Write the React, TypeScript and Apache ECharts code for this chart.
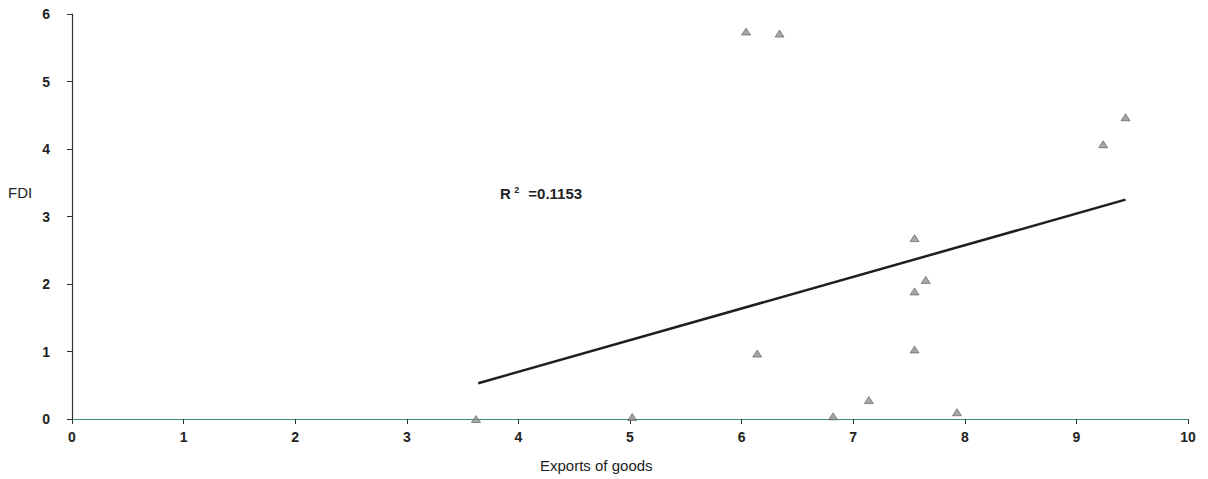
import React, { useEffect, useRef } from "react";
import * as echarts from "echarts";

const exportsX = [3.62, 5.02, 6.04, 6.34, 6.14, 6.82, 7.14, 7.55, 7.65, 7.55, 7.55, 7.93, 9.24, 9.44];
const fdiY = [0.0, 0.03, 5.74, 5.71, 0.97, 0.04, 0.28, 2.68, 2.06, 1.89, 1.03, 0.1, 4.07, 4.47];
const trendX = [3.64, 9.44];
const trendY = [0.53, 3.25];
const xTicks = [0, 1, 2, 3, 4, 5, 6, 7, 8, 9, 10];
const yTicks = [0, 1, 2, 3, 4, 5, 6];
const rSquared = "0.1153";
const xTitle = "Exports of goods";
const yTitle = "FDI";

export default function App() {
  const ref = useRef<HTMLDivElement>(null);
  useEffect(() => {
    if (!ref.current) return;
    const chart = echarts.init(ref.current, null, { renderer: "svg" });
    const font = "Arial, 'Liberation Sans', sans-serif";
    chart.setOption({
      animation: false,
      backgroundColor: "#ffffff",
      grid: { left: 72, right: 20, top: 14, bottom: 60, containLabel: false },
      xAxis: {
        type: "value",
        min: xTicks[0],
        max: xTicks[xTicks.length - 1],
        interval: 1,
        axisLine: { show: true, lineStyle: { color: "#3d8c7c", width: 1.2 } },
        axisTick: { show: true, inside: false, length: 5, lineStyle: { color: "#333" } },
        axisLabel: { color: "#222", fontFamily: font, fontSize: 14, fontWeight: "bold", margin: 11 },
        splitLine: { show: false },
      },
      yAxis: {
        type: "value",
        min: yTicks[0],
        max: yTicks[yTicks.length - 1],
        interval: 1,
        axisLine: { show: true, lineStyle: { color: "#333", width: 1.2 } },
        axisTick: { show: true, inside: false, length: 5, lineStyle: { color: "#333" } },
        axisLabel: { color: "#222", fontFamily: font, fontSize: 14, fontWeight: "bold", margin: 22 },
        splitLine: { show: false },
      },
      series: [
        {
          type: "scatter",
          data: exportsX.map((x, i) => [x, fdiY[i]]),
          symbol: "triangle",
          symbolSize: [9, 7],
          itemStyle: { color: "#8e8e8e", borderColor: "#5a5a5a", borderWidth: 0.8 },
          z: 3,
        },
        {
          type: "line",
          data: trendX.map((x, i) => [x, trendY[i]]),
          showSymbol: false,
          symbol: "none",
          lineStyle: { color: "#1e1e1e", width: 2.5 },
          z: 2,
        },
      ],
      graphic: [
        {
          type: "text",
          left: 8,
          top: 185,
          style: { text: yTitle, fill: "#222", font: `15px ${font}` },
        },
        {
          type: "text",
          left: 540,
          top: 458,
          style: { text: xTitle, fill: "#222", font: `15px ${font}` },
        },
        {
          type: "text",
          left: 500,
          top: 185,
          style: {
            text: "{r|R}{s| 2}{r|=" + rSquared + "}",
            rich: {
              r: { fontFamily: font, fontSize: 15, fontWeight: "bold", fill: "#222" },
              s: { fontFamily: font, fontSize: 9, fontWeight: "bold", fill: "#222", verticalAlign: "top", padding: [0, 9, 8, 1] },
            },
          },
        },
      ],
    });
    return () => chart.dispose();
  }, []);
  return (
    <div
      ref={ref}
      style={{ position: "fixed", left: 0, top: 0, width: 1208, height: 479 }}
    />
  );
}
